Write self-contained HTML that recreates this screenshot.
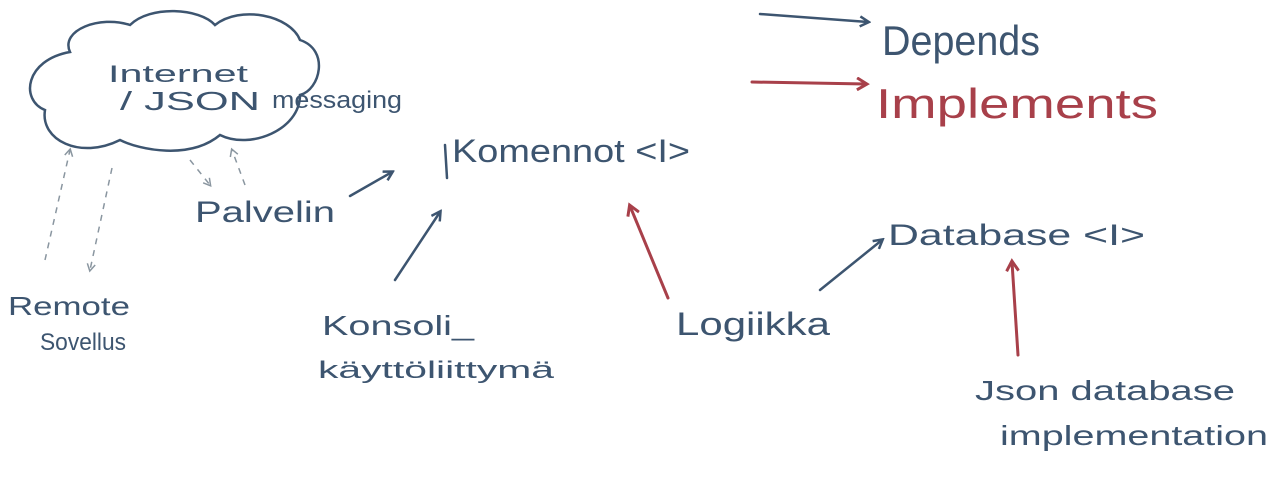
<!DOCTYPE html>
<html><head><meta charset="utf-8"><style>
html,body{margin:0;padding:0;background:#fff;}
svg{display:block}
text{font-family:"Liberation Sans",sans-serif;}
</style></head><body>
<svg width="1280" height="496" viewBox="0 0 1280 496" xmlns="http://www.w3.org/2000/svg">
<defs>
<marker id="ab" markerWidth="12" markerHeight="12" refX="9" refY="6" orient="auto" markerUnits="userSpaceOnUse"><path d="M1,1 L10,6 L1,11" fill="none" stroke="#3d5570" stroke-width="2.5"/></marker>
<marker id="ar" markerWidth="14" markerHeight="14" refX="10" refY="7" orient="auto" markerUnits="userSpaceOnUse"><path d="M1,1 L11,7 L1,13" fill="none" stroke="#a8404a" stroke-width="3"/></marker>
<marker id="ag" markerWidth="10" markerHeight="10" refX="7" refY="5" orient="auto" markerUnits="userSpaceOnUse"><path d="M1,1 L8,5 L1,9" fill="none" stroke="#8a96a0" stroke-width="1.5"/></marker>
</defs>
<g fill="none" stroke="#3d5570" stroke-width="2.5" stroke-linecap="round">
<path d="M70,52 C60,30 100,15 130,25 C150,5 200,8 215,25 C240,5 290,15 300,40 C330,50 320,90 300,95 C300,130 250,150 220,135 C190,160 140,150 120,140 C80,160 40,140 45,110 C20,100 25,60 70,52 Z"/>
<path d="M760,14 L868,22" marker-end="url(#ab)"/>
<path d="M350,196 L392,172" marker-end="url(#ab)"/>
<path d="M395,280 L440,212" marker-end="url(#ab)"/>
<path d="M820,290 L882,240" marker-end="url(#ab)"/>
<path d="M445,145 L447,178"/>
</g>
<g fill="none" stroke="#8a96a0" stroke-width="1.5" stroke-dasharray="6,6">
<path d="M45,260 L70,150" marker-end="url(#ag)"/>
<path d="M112,168 L90,270" marker-end="url(#ag)"/>
<path d="M190,160 L210,185" marker-end="url(#ag)"/>
<path d="M245,185 L232,150" marker-end="url(#ag)"/>
</g>
<g fill="none" stroke="#a8404a" stroke-width="3" stroke-linecap="round">
<path d="M752,82 L866,84" marker-end="url(#ar)"/>
<path d="M668,298 L630,206" marker-end="url(#ar)"/>
<path d="M1018,355 L1012,262" marker-end="url(#ar)"/>
</g>
<g fill="#3d5570">
<text x="108" y="82" font-size="24" textLength="140" lengthAdjust="spacingAndGlyphs">Internet</text>
<text x="120" y="110" font-size="26" textLength="140" lengthAdjust="spacingAndGlyphs">/ JSON</text>
<text x="272" y="108" font-size="24" textLength="130" lengthAdjust="spacingAndGlyphs">messaging</text>
<text x="452" y="162" font-size="32" textLength="238" lengthAdjust="spacingAndGlyphs">Komennot &lt;I&gt;</text>
<text x="882" y="55" font-size="42" textLength="158" lengthAdjust="spacingAndGlyphs">Depends</text>
<text x="195" y="222" font-size="30" textLength="140" lengthAdjust="spacingAndGlyphs">Palvelin</text>
<text x="888" y="245" font-size="30" textLength="257" lengthAdjust="spacingAndGlyphs">Database &lt;I&gt;</text>
<text x="8" y="315" font-size="26" textLength="122" lengthAdjust="spacingAndGlyphs">Remote</text>
<text x="40" y="350" font-size="24" textLength="86" lengthAdjust="spacingAndGlyphs">Sovellus</text>
<text x="322" y="335" font-size="28" textLength="152" lengthAdjust="spacingAndGlyphs">Konsoli_</text>
<text x="318" y="378" font-size="24" textLength="236" lengthAdjust="spacingAndGlyphs">käyttöliittymä</text>
<text x="676" y="335" font-size="32" textLength="154" lengthAdjust="spacingAndGlyphs">Logiikka</text>
<text x="975" y="400" font-size="28" textLength="260" lengthAdjust="spacingAndGlyphs">Json database</text>
<text x="1000" y="445" font-size="28" textLength="268" lengthAdjust="spacingAndGlyphs">implementation</text>
</g>
<text x="876" y="118" font-size="42" fill="#a8404a" textLength="282" lengthAdjust="spacingAndGlyphs">Implements</text>
</svg>
</body></html>
